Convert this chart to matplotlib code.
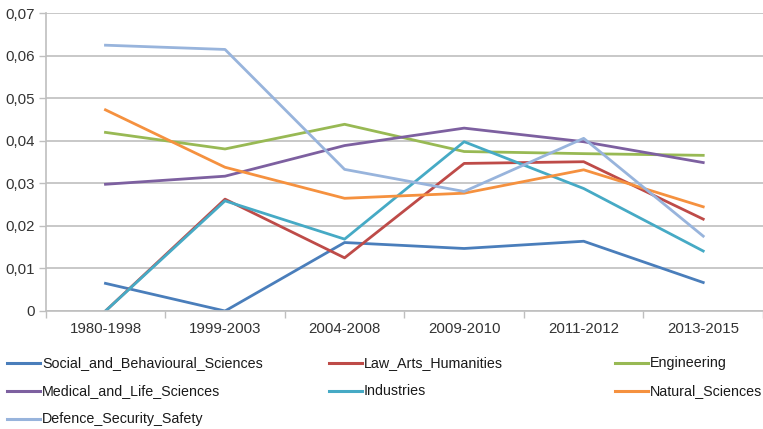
import matplotlib.pyplot as plt
from matplotlib.lines import Line2D
from matplotlib.ticker import FuncFormatter, MultipleLocator

plt.rcParams['font.family'] = ['Liberation Sans', 'DejaVu Sans']

periods = ['1980-1998', '1999-2003', '2004-2008', '2009-2010', '2011-2012', '2013-2015']

social = [0.0065, 0.0, 0.0161, 0.0147, 0.0164, 0.0067]
law = [0.0, 0.0263, 0.0125, 0.0347, 0.0351, 0.0216]
engineering = [0.0420, 0.0381, 0.0439, 0.0375, 0.0370, 0.0366]
medical = [0.0298, 0.0317, 0.0389, 0.0430, 0.0398, 0.0349]
industries = [0.0, 0.0259, 0.0169, 0.0398, 0.0288, 0.0141]
natural = [0.0473, 0.0338, 0.0265, 0.0277, 0.0332, 0.0245]
defence = [0.0625, 0.0615, 0.0333, 0.0281, 0.0406, 0.0176]

series = [
    ('Social_and_Behavioural_Sciences', social, '#4a7ebb'),
    ('Law_Arts_Humanities', law, '#be4b48'),
    ('Engineering', engineering, '#98b954'),
    ('Medical_and_Life_Sciences', medical, '#7d60a0'),
    ('Industries', industries, '#46aac5'),
    ('Natural_Sciences', natural, '#f5913f'),
    ('Defence_Security_Safety', defence, '#98b4dc'),
]

fig = plt.figure(figsize=(7.63, 4.29), dpi=100)
ax = fig.add_axes([45.7 / 763, 118 / 429, (763 - 45.7) / 763, (311 - 13.3) / 429])

x = list(range(len(periods)))
for name, vals, color in series:
    ax.plot(x, vals, color=color, linewidth=2.0)

ax.set_ylim(0, 0.07)
ax.set_xlim(-0.5, 5.5 - 2.7 / 120)
ax.yaxis.set_major_locator(MultipleLocator(0.01))
ax.yaxis.set_major_formatter(
    FuncFormatter(lambda v, p: '0' if abs(v) < 1e-9 else f'{v:.2f}'.replace('.', ',')))
ax.grid(axis='y', color='#bfbfbf', linewidth=1.2)
ax.set_axisbelow(True)

ax.set_xticks(x)
ax.set_xticklabels(periods)
ax.set_xticks([i + 0.5 for i in range(-1, len(periods))], minor=True)
ax.tick_params(axis='x', which='major', length=0, pad=8, labelsize=10.8, colors='#333333')
ax.tick_params(axis='x', which='minor', length=5, color='#bfbfbf', width=1)
ax.tick_params(axis='y', length=5, color='#bfbfbf', width=1, pad=3, labelsize=10.8,
               labelcolor='#333333')

for side in ['top', 'right']:
    ax.spines[side].set_visible(False)
for side in ['left', 'bottom']:
    ax.spines[side].set_color('#bfbfbf')
    ax.spines[side].set_linewidth(1.2)

# legend laid out row by row in three columns
col_x = [7, 329, 615]
row_y = [363, 391, 419]
for i, (name, vals, color) in enumerate(series):
    cx = col_x[i % 3] / 763
    ry = 1 - row_y[i // 3] / 429
    fig.add_artist(Line2D([cx, cx + 33 / 763], [ry, ry], color=color, linewidth=2.2,
                          transform=fig.transFigure))
    fig.text(cx + 35 / 763, ry, name, fontsize=10.3, color='#1a1a1a',
             ha='left', va='center')

fig.savefig('out.png', dpi=100)
